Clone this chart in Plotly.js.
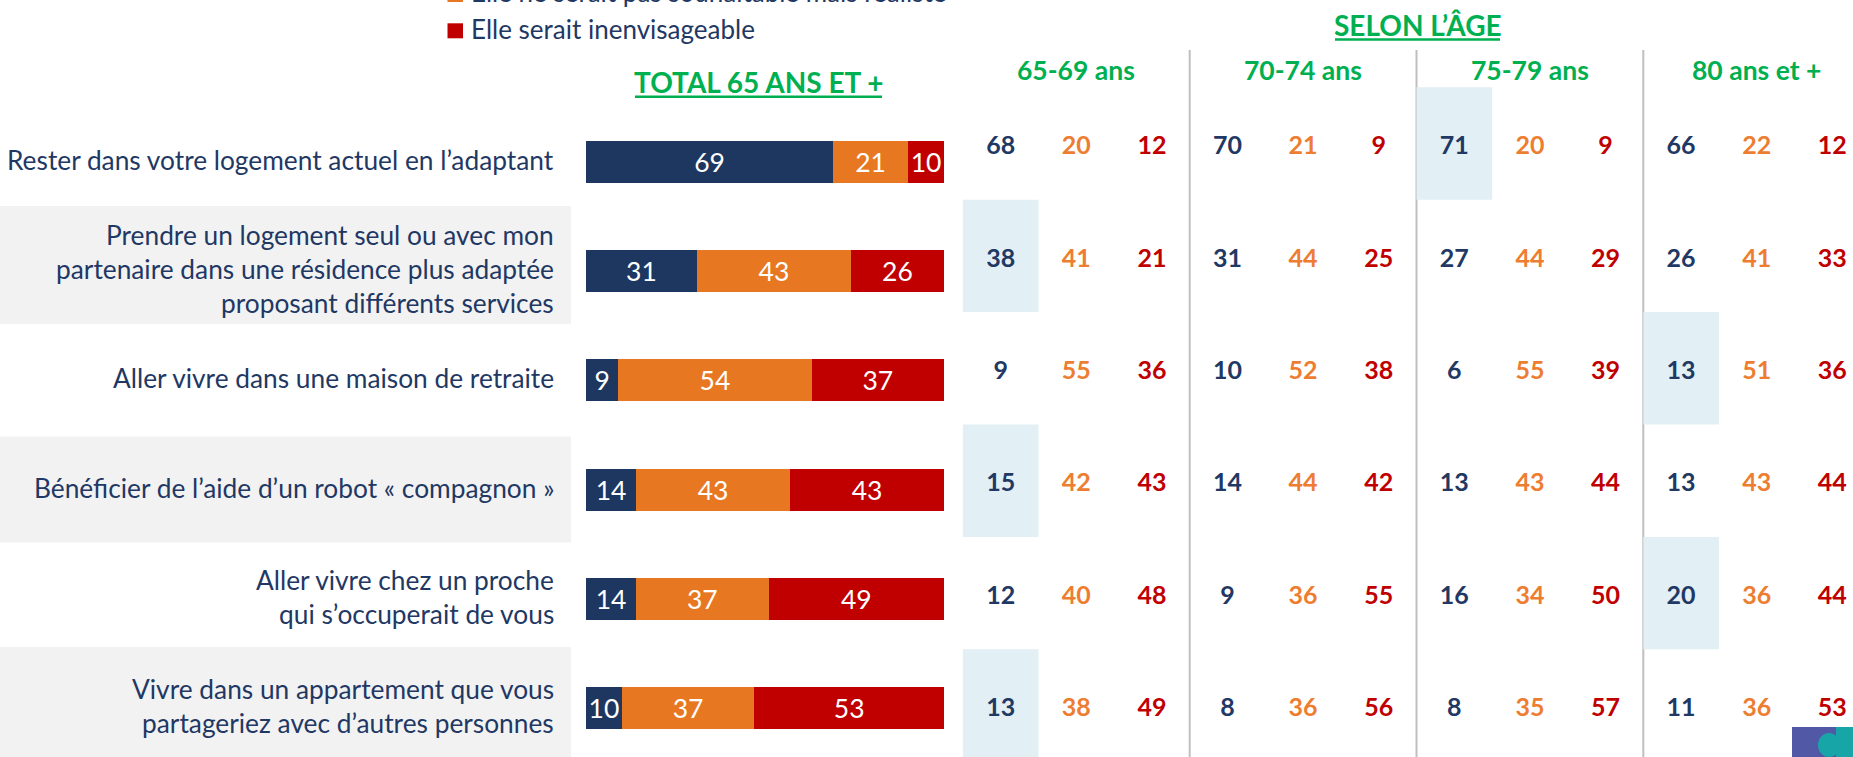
<!DOCTYPE html>
<html>
<head>
<meta charset="utf-8">
<script src="https://cdn.plot.ly/plotly-3.0.1.min.js"></script>
<style>html,body{margin:0;padding:0;background:#fff;overflow:hidden}</style>
</head>
<body>
<div id="chart" style="width:1853px;height:757px"></div>
<script>
// ---------- DATA ----------
const rowLabels = [
  "Rester dans votre logement actuel en l’adaptant",
  "Prendre un logement seul ou avec mon\npartenaire dans une résidence plus adaptée\nproposant différents services",
  "Aller vivre dans une maison de retraite",
  "Bénéficier de l’aide d’un robot « compagnon »",
  "Aller vivre chez un proche\nqui s’occuperait de vous",
  "Vivre dans un appartement que vous\npartageriez avec d’autres personnes"
];
const seriesNames = ["Elle serait souhaitable", "Elle ne serait pas souhaitable mais réaliste", "Elle serait inenvisageable"];
const totalSouhaitable   = [69, 31, 9, 14, 14, 10];
const totalRealiste      = [21, 43, 54, 43, 37, 37];
const totalInenvisageable= [10, 26, 37, 43, 49, 53];

const ageGroups = ["65-69 ans", "70-74 ans", "75-79 ans", "80 ans et +"];
const ageSouhaitable = [
  [68, 38, 9, 15, 12, 13],
  [70, 31, 10, 14, 9, 8],
  [71, 27, 6, 13, 16, 8],
  [66, 26, 13, 13, 20, 11]
];
const ageRealiste = [
  [20, 41, 55, 42, 40, 38],
  [21, 44, 52, 44, 36, 36],
  [20, 44, 55, 43, 34, 35],
  [22, 41, 51, 43, 36, 36]
];
const ageInenvisageable = [
  [12, 21, 36, 43, 48, 49],
  [9, 25, 38, 42, 55, 56],
  [9, 29, 39, 44, 50, 57],
  [12, 33, 36, 44, 44, 53]
];
// age group highlighted (first column) for each row
const highlightGroup = [2, 0, 3, 0, 3, 0];

const totalTitle = "TOTAL 65 ANS ET +";
const ageTitle = "SELON L’ÂGE";

// ---------- STYLE ----------
const W = 1853, H = 757;
const FONT = 'Lato, "Open Sans", sans-serif';
const NAVY = '#1D3760', ORANGE = '#E87722', RED = '#C00000';
const TXT_NAVY = '#1F3864', TXT_ORANGE = '#ED7D31', TXT_RED = '#C00000';
const GREEN = '#00B050';
const fx = p => p / W;
const fy = p => 1 - p / H;

const cats = rowLabels.map(s => s.replace(/\n/g, ' '));

// bar rows geometry (pixels)
const barC0 = 161.7, barStep = 109.3;
// table rows/cols geometry (pixels)
const tabC0 = 148, tabStep = 112.4, boxShift = -4.5;
const colC0 = 1000.7, colStep = 75.6;

const traces = [];
const barVals = [totalSouhaitable, totalRealiste, totalInenvisageable];
const barCols = [NAVY, ORANGE, RED];
barVals.forEach((vals, k) => {
  traces.push({
    type: 'bar', orientation: 'h',
    x: vals, y: cats, name: seriesNames[k],
    marker: {color: barCols[k], line: {width: 0}},
    width: 0.384,
    text: vals.map(String), textposition: 'inside', insidetextanchor: 'middle',
    constraintext: 'none', textangle: 0,
    textfont: {family: FONT, size: 26.5, color: '#FFFFFF'},
    xaxis: 'x', yaxis: 'y', showlegend: false, hoverinfo: 'skip'
  });
});

const tabSeries = [ageSouhaitable, ageRealiste, ageInenvisageable];
const tabCols = [TXT_NAVY, TXT_ORANGE, TXT_RED];
tabSeries.forEach((grp, k) => {
  const xs = [], ys = [], ts = [];
  grp.forEach((vals, g) => {
    vals.forEach((v, r) => { xs.push(g * 3 + k); ys.push(cats[r]); ts.push(String(v)); });
  });
  traces.push({
    type: 'scatter', mode: 'text', x: xs, y: ys, text: ts,
    textposition: 'middle center',
    textfont: {family: FONT, size: 25, color: tabCols[k], weight: 'bold'},
    xaxis: 'x2', yaxis: 'y2', showlegend: false, hoverinfo: 'skip', cliponaxis: false
  });
});

const shapes = [];
const annotations = [];

// grey bands behind alternating labels
const bands = [[206, 324], [436.5, 542.5], [647, 757]];
bands.forEach(b => shapes.push({type: 'rect', xref: 'paper', yref: 'paper', x0: 0, x1: fx(571), y0: fy(b[1]), y1: fy(b[0]), fillcolor: '#F2F2F2', line: {width: 0}, layer: 'below'}));

// highlight boxes
const bs = boxShift / tabStep;
highlightGroup.forEach((g, r) => shapes.push({type: 'rect', xref: 'x2', yref: 'y2', x0: g * 3 - 0.5, x1: g * 3 + 0.5, y0: r - 0.5 + bs, y1: r + 0.5 + bs, fillcolor: '#E2EFF4', line: {width: 0}, layer: 'below'}));

// vertical separators between age groups
for (let g = 1; g < ageGroups.length; g++) {
  shapes.push({type: 'line', xref: 'x2', yref: 'paper', x0: g * 3 - 0.5, x1: g * 3 - 0.5, y0: fy(50), y1: 0, line: {color: '#BFBFBF', width: 2}, layer: 'below'});
}

// titles
annotations.push({text: '<b>' + totalTitle + '</b>', xref: 'paper', yref: 'paper', x: fx(758.5), y: fy(81.7), xanchor: 'center', yanchor: 'middle', showarrow: false, font: {family: FONT, size: 28, color: GREEN}});
shapes.push({type: 'line', xref: 'paper', yref: 'paper', x0: fx(635), x1: fx(882), y0: fy(96.7), y1: fy(96.7), line: {color: GREEN, width: 2.6}});
annotations.push({text: '<b>' + ageTitle + '</b>', xref: 'paper', yref: 'paper', x: fx(1417.7), y: fy(25), xanchor: 'center', yanchor: 'middle', showarrow: false, font: {family: FONT, size: 28, color: GREEN}});
shapes.push({type: 'line', xref: 'paper', yref: 'paper', x0: fx(1335), x1: fx(1500), y0: fy(39.5), y1: fy(39.5), line: {color: GREEN, width: 2.6}});

ageGroups.forEach((name, g) => annotations.push({text: '<b>' + name + '</b>', xref: 'x2', yref: 'paper', x: g * 3 + 1, y: fy(69.5), xanchor: 'center', yanchor: 'middle', showarrow: false, font: {family: FONT, size: 26.5, color: GREEN}}));

// row labels (one annotation per line)
const lineGap = 34;
rowLabels.forEach((lab, r) => {
  const lines = lab.split('\n');
  lines.forEach((ln, i) => {
    annotations.push({text: ln, xref: 'paper', yref: 'y', x: fx(556), y: r, xanchor: 'right', yanchor: 'middle', align: 'right', showarrow: false,
      yshift: 2 - (i - (lines.length - 1) / 2) * lineGap,
      font: {family: FONT, size: 26.3, color: TXT_NAVY}});
  });
});

// legend (top, partially cut by the frame)
const legendItems = [{c: ORANGE, t: seriesNames[1], mid: -7.5}, {c: RED, t: seriesNames[2], mid: 28.8}];
legendItems.forEach(it => {
  shapes.push({type: 'rect', xref: 'paper', yref: 'paper', x0: fx(447.5), x1: fx(463), y0: fy(it.mid + 9.5), y1: fy(it.mid - 5.5), fillcolor: it.c, line: {width: 0}});
  annotations.push({text: it.t, xref: 'paper', yref: 'paper', x: fx(469), y: fy(it.mid), xanchor: 'left', yanchor: 'middle', showarrow: false, font: {family: FONT, size: 26, color: TXT_NAVY}});
});

// small logo bottom right
shapes.push({type: 'rect', xref: 'paper', yref: 'paper', x0: fx(1792), x1: 1, y0: 0, y1: fy(727), fillcolor: '#5159A6', line: {width: 0}});
shapes.push({type: 'rect', xref: 'paper', yref: 'paper', x0: fx(1836), x1: 1, y0: 0, y1: fy(727), fillcolor: '#17A5A8', line: {width: 0}});
shapes.push({type: 'circle', xref: 'paper', yref: 'paper', x0: fx(1818), x1: fx(1840), y0: fy(757), y1: fy(733), fillcolor: '#17A5A8', line: {width: 0}});

const layout = {
  width: W, height: H,
  margin: {l: 0, r: 0, t: 0, b: 0, pad: 0, autoexpand: false},
  paper_bgcolor: '#FFFFFF', plot_bgcolor: 'rgba(0,0,0,0)',
  barmode: 'stack', showlegend: false,
  xaxis: {domain: [fx(586), fx(944)], range: [0, 100], visible: false, fixedrange: true},
  yaxis: {domain: [0, 1], type: 'category', categoryorder: 'array', categoryarray: cats,
          range: [(H - barC0) / barStep, -barC0 / barStep], visible: false, fixedrange: true},
  xaxis2: {domain: [0, 1], anchor: 'y2', range: [-colC0 / colStep, (W - colC0) / colStep], visible: false, fixedrange: true},
  yaxis2: {domain: [0, 1], anchor: 'x2', type: 'category', categoryorder: 'array', categoryarray: cats,
           range: [(H - tabC0) / tabStep, -tabC0 / tabStep], visible: false, fixedrange: true},
  shapes: shapes, annotations: annotations,
  font: {family: FONT, color: TXT_NAVY}
};

Plotly.newPlot('chart', traces, layout, {staticPlot: true, displayModeBar: false});
</script>
</body>
</html>
